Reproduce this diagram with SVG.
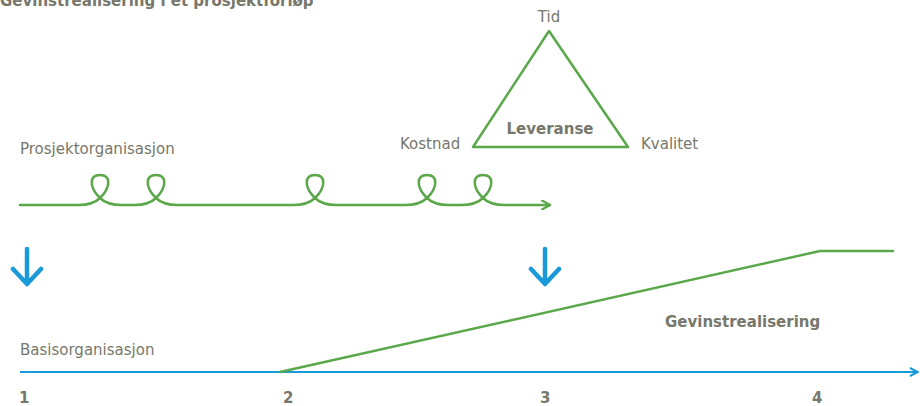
<svg xmlns="http://www.w3.org/2000/svg" width="920" height="406" viewBox="0 0 920 406">
<style>
.t{font-family:"DejaVu Sans",Verdana,sans-serif;fill:#77776b;font-size:15px}
.b{font-weight:bold}
.g{fill:none;stroke:#5aa84a;stroke-width:2.5;stroke-linejoin:round;stroke-linecap:round}
.bl{fill:none;stroke:#1a9ad9;stroke-width:4.5;stroke-linecap:round;stroke-linejoin:round}
</style>
<defs>
<marker id="ga" viewBox="0 0 10 10" refX="9" refY="5" markerWidth="10" markerHeight="10" markerUnits="userSpaceOnUse" orient="auto"><path d="M1 0.5L9 5L1 9.5" fill="none" stroke="#5aa84a" stroke-width="2.2" stroke-linecap="round"/></marker>
<marker id="ba" viewBox="0 0 10 10" refX="9" refY="5" markerWidth="10" markerHeight="10" markerUnits="userSpaceOnUse" orient="auto"><path d="M1 1L9 5L1 9" fill="none" stroke="#1a9ad9" stroke-width="2"/></marker>
</defs>
<text class="t b" x="0" y="6" font-size="13">Gevinstrealisering i et prosjektforløp</text>
<g id="triangle">
<path class="g" d="M549 31L473 147L628 147Z" stroke-width="2.8"/>
<text class="t" x="549" y="22" text-anchor="middle">Tid</text>
<text class="t b" x="550" y="134" text-anchor="middle">Leveranse</text>
<text class="t" x="400" y="149">Kostnad</text>
<text class="t" x="641" y="149">Kvalitet</text>
</g>
<g id="prosjekt">
<text class="t" x="20" y="154">Prosjektorganisasjon</text>
</g>
<g id="basis">
<text class="t" x="20" y="355">Basisorganisasjon</text>
</g>
<g id="gevinst">
<text class="t b" x="665" y="327">Gevinstrealisering</text>
</g>
<g id="numbers">
<text class="t b" x="19" y="403" font-size="16.5">1</text>
<text class="t b" x="283" y="403" font-size="16.5">2</text>
<text class="t b" x="540" y="403" font-size="16.5">3</text>
<text class="t b" x="812" y="403" font-size="16.5">4</text>
</g>
<g id="connectors">
<path class="g" marker-end="url(#ga)" d="M20 205H78 Q93 205 100 198 C111 187 111 175 100 175 C89 175 89 187 100 198 Q107 205 122 205 H134 Q149 205 156 198 C167 187 167 175 156 175 C145 175 145 187 156 198 Q163 205 178 205 H293 Q308 205 315 198 C326 187 326 175 315 175 C304 175 304 187 315 198 Q322 205 337 205 H405 Q420 205 427 198 C438 187 438 175 427 175 C416 175 416 187 427 198 Q434 205 449 205 H461 Q476 205 483 198 C494 187 494 175 483 175 C472 175 472 187 483 198 Q490 205 505 205 H550"/>
<path class="bl" d="M27 249V283M13 269L27 284L41 269"/>
<path class="bl" d="M545 249V283M531 269L545 284L559 269"/>
<path d="M20 372H918" stroke="#1a9ad9" stroke-width="2.2" fill="none" marker-end="url(#ba)"/>
<path class="g" d="M280 372L820 251H893"/>
</g>
</svg>
